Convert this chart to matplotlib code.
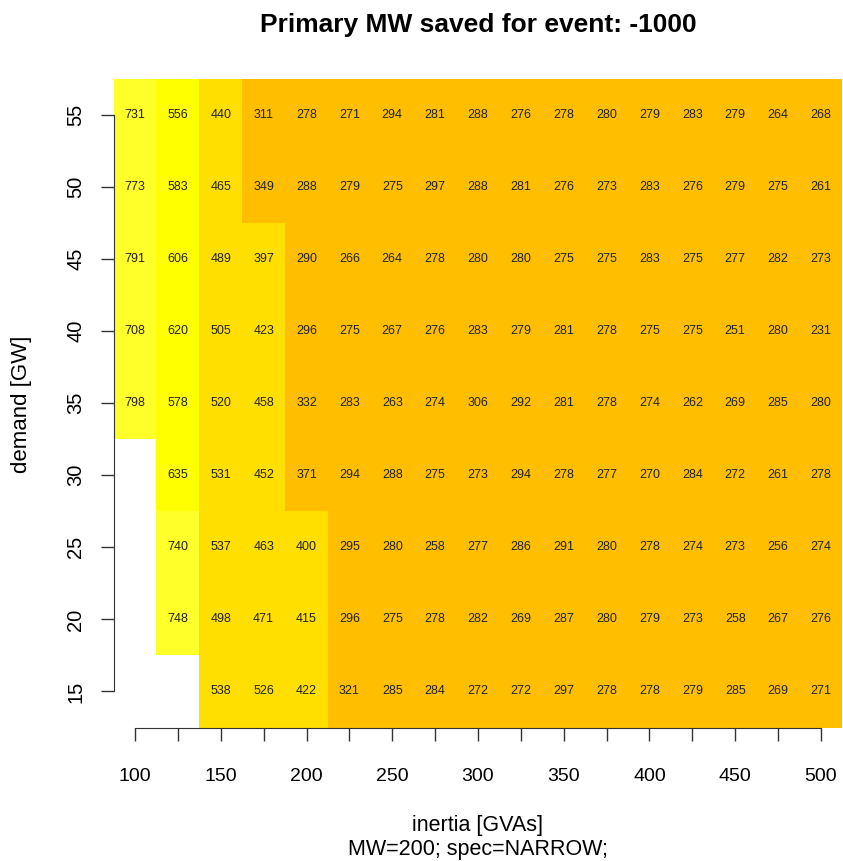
import numpy as np
import matplotlib.pyplot as plt
from matplotlib.colors import ListedColormap, BoundaryNorm

plt.rcParams['font.family'] = ['Liberation Sans', 'DejaVu Sans']

# inertia [GVAs] (columns) and demand [GW] (rows)
inertia = np.arange(100, 501, 25)
demand = np.arange(15, 56, 5)

nan = np.nan
# rows listed top (55 GW) to bottom (15 GW), as in the picture
saved_55 = [731, 556, 440, 311, 278, 271, 294, 281, 288, 276, 278, 280, 279, 283, 279, 264, 268]
saved_50 = [773, 583, 465, 349, 288, 279, 275, 297, 288, 281, 276, 273, 283, 276, 279, 275, 261]
saved_45 = [791, 606, 489, 397, 290, 266, 264, 278, 280, 280, 275, 275, 283, 275, 277, 282, 273]
saved_40 = [708, 620, 505, 423, 296, 275, 267, 276, 283, 279, 281, 278, 275, 275, 251, 280, 231]
saved_35 = [798, 578, 520, 458, 332, 283, 263, 274, 306, 292, 281, 278, 274, 262, 269, 285, 280]
saved_30 = [nan, 635, 531, 452, 371, 294, 288, 275, 273, 294, 278, 277, 270, 284, 272, 261, 278]
saved_25 = [nan, 740, 537, 463, 400, 295, 280, 258, 277, 286, 291, 280, 278, 274, 273, 256, 274]
saved_20 = [nan, 748, 498, 471, 415, 296, 275, 278, 282, 269, 287, 280, 279, 273, 258, 267, 276]
saved_15 = [nan, nan, 538, 526, 422, 321, 285, 284, 272, 272, 297, 278, 278, 279, 285, 269, 271]

Z = np.array([saved_15, saved_20, saved_25, saved_30, saved_35,
              saved_40, saved_45, saved_50, saved_55])
Zm = np.ma.masked_invalid(Z)

# heat.colors style bins
levels = [0, 385, 545, 705, 1000]
cmap = ListedColormap(['#FFBF00', '#FFDF00', '#FFFF00', '#FFFF2A'])
norm = BoundaryNorm(levels, cmap.N)

xe = np.append(inertia - 12.5, inertia[-1] + 12.5)
ye = np.append(demand - 2.5, demand[-1] + 2.5)

fig = plt.figure(figsize=(8.43, 8.61), dpi=100)
ax = fig.add_axes([113.6/843, 1-727.5/861, (842.4-113.6)/843, (727.5-79)/861])
ax.pcolormesh(xe, ye, Zm, cmap=cmap, norm=norm)
ax.set_xlim(xe[0], xe[-1])
ax.set_ylim(ye[0], ye[-1])

for i, d in enumerate(demand):
    for j, g in enumerate(inertia):
        if not np.isnan(Z[i, j]):
            ax.text(g, d, f'{int(Z[i, j])}', ha='center', va='center',
                    fontsize=9, color='#222222')

for s in ['top', 'right']:
    ax.spines[s].set_visible(False)
ax.spines['left'].set_bounds(15, 55)
ax.spines['bottom'].set_bounds(100, 500)
ax.spines['left'].set_color('#333333')
ax.spines['bottom'].set_color('#333333')
ax.set_xticks(np.arange(100, 501, 25))
ax.set_xticklabels([str(v) if v % 50 == 0 else '' for v in range(100, 501, 25)])
ax.set_yticks(demand)
ax.set_yticklabels([str(v) for v in demand], rotation=90, va='center')
ax.tick_params(axis='x', length=9, width=1, color='#333333', labelsize=14, pad=20)
ax.tick_params(axis='y', length=9.5, width=1, color='#333333', labelsize=14.5, pad=11)

fig.text(478/843, 1-25/861, 'Primary MW saved for event: -1000', ha='center', va='center',
         fontsize=19, fontweight='bold')
fig.text(478/843, 1-826/861, 'inertia [GVAs]', ha='center', va='center', fontsize=15.5)
fig.text(478/843, 1-849/861, 'MW=200; spec=NARROW;', ha='center', va='center', fontsize=15.5)
fig.text(22/843, 1-404/861, 'demand [GW]', ha='center', va='center', rotation=90, fontsize=16)

fig.savefig('out.png', dpi=100)
